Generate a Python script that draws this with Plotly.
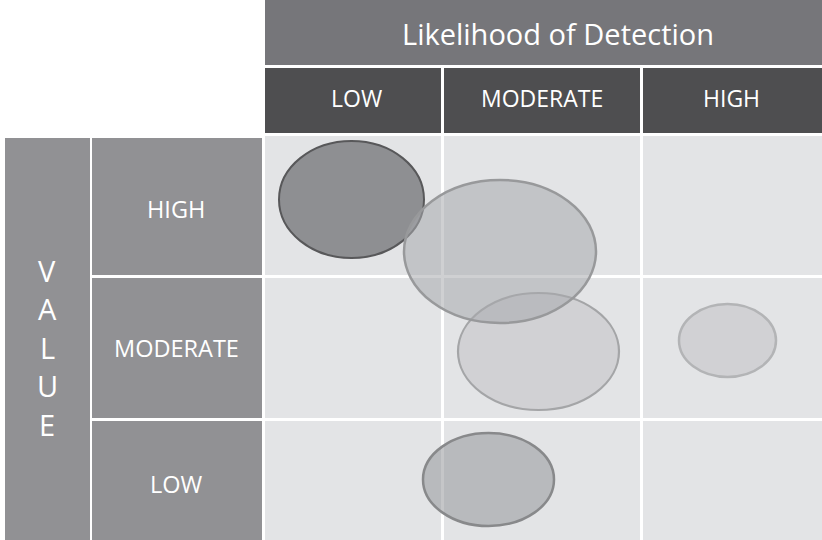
import plotly.graph_objects as go

# ---------------- data ----------------
title_text = "Likelihood of Detection"
detection_levels = ["LOW", "MODERATE", "HIGH"]
value_levels = ["HIGH", "MODERATE", "LOW"]
value_axis_label = "VALUE"

# matrix geometry (axis units = pixels of the chart area)
col_edges = [265, 441, 444, 640, 643, 822]      # LOW, MODERATE, HIGH column spans
row_edges = [136, 275, 278, 418, 421, 540]      # HIGH, MODERATE, LOW row spans

# bubbles: centre x, centre y, radius x, radius y
bubble_cx = [351.5, 538.5, 500.0, 727.5, 488.5]
bubble_cy = [199.5, 351.5, 251.5, 340.5, 479.5]
bubble_rx = [72.5, 80.5, 96.0, 48.5, 65.5]
bubble_ry = [58.5, 58.5, 71.5, 36.5, 46.5]
bubble_fill = ["rgba(135,136,139,0.92)", "rgba(196,197,200,0.6)", "rgba(168,169,173,0.55)",
               "rgba(196,197,200,0.6)", "rgba(150,151,155,0.55)"]
bubble_line = ["#58585a", "#a4a5a7", "#98999b", "#b3b4b6", "#88898b"]
bubble_lw = [2, 2.2, 2.5, 2.5, 2.5]

FONT = "Open Sans"
W, H = 822, 540

fig = go.Figure()
shapes = []
annotations = []

def rect(x0, x1, y0, y1, color):
    shapes.append(dict(type="rect", xref="x", yref="y", x0=x0, x1=x1, y0=y0, y1=y1,
                       fillcolor=color, line=dict(width=0), layer="below"))

# title band
rect(col_edges[0], W, 0, 65, "#76767a")
annotations.append(dict(x=558, y=33, text=title_text, showarrow=False,
                        font=dict(family=FONT, size=29, color="white"), xref="x", yref="y"))
# column headers
header_x = [356, 542, 731]
for i, lab in enumerate(detection_levels):
    x0, x1 = col_edges[2 * i], col_edges[2 * i + 1]
    rect(x0, x1, 68, 133, "#4e4e50")
    annotations.append(dict(x=header_x[i], y=98, text=lab, showarrow=False,
                            font=dict(family=FONT, size=23, color="white"), xref="x", yref="y"))
# VALUE column
rect(5, 90, 138, H, "#919194")
for k, ch in enumerate(value_axis_label):
    annotations.append(dict(x=47, y=270 + 38.5 * k, text=ch, showarrow=False,
                            font=dict(family=FONT, size=29, color="white"), xref="x", yref="y"))
# row labels
for j, lab in enumerate(value_levels):
    y0, y1 = row_edges[2 * j], row_edges[2 * j + 1]
    y0 = max(y0, 138)
    rect(92, 262, y0, y1, "#919194")
    ly = [209, 348, 484][j]
    annotations.append(dict(x=176, y=ly, text=lab, showarrow=False,
                            font=dict(family=FONT, size=23.5, color="white"), xref="x", yref="y"))
# grid cells
for i in range(3):
    for j in range(3):
        rect(col_edges[2 * i], col_edges[2 * i + 1], row_edges[2 * j], row_edges[2 * j + 1], "#e3e4e6")

# bubbles
for cx, cy, rx, ry, fc, lc, lw in zip(bubble_cx, bubble_cy, bubble_rx, bubble_ry,
                                      bubble_fill, bubble_line, bubble_lw):
    shapes.append(dict(type="circle", xref="x", yref="y", x0=cx - rx, x1=cx + rx,
                       y0=cy - ry, y1=cy + ry, fillcolor=fc, line=dict(color=lc, width=lw),
                       layer="above"))

fig.update_layout(
    width=W, height=H, margin=dict(l=0, r=0, t=0, b=0),
    paper_bgcolor="white", plot_bgcolor="white",
    xaxis=dict(range=[0, W], visible=False, fixedrange=True),
    yaxis=dict(range=[H, 0], visible=False, fixedrange=True),
    shapes=shapes, annotations=annotations, showlegend=False,
)
fig.write_html("out.html", config={"displayModeBar": False},
               post_script="document.body.style.margin='0';document.body.style.overflow='hidden';")
